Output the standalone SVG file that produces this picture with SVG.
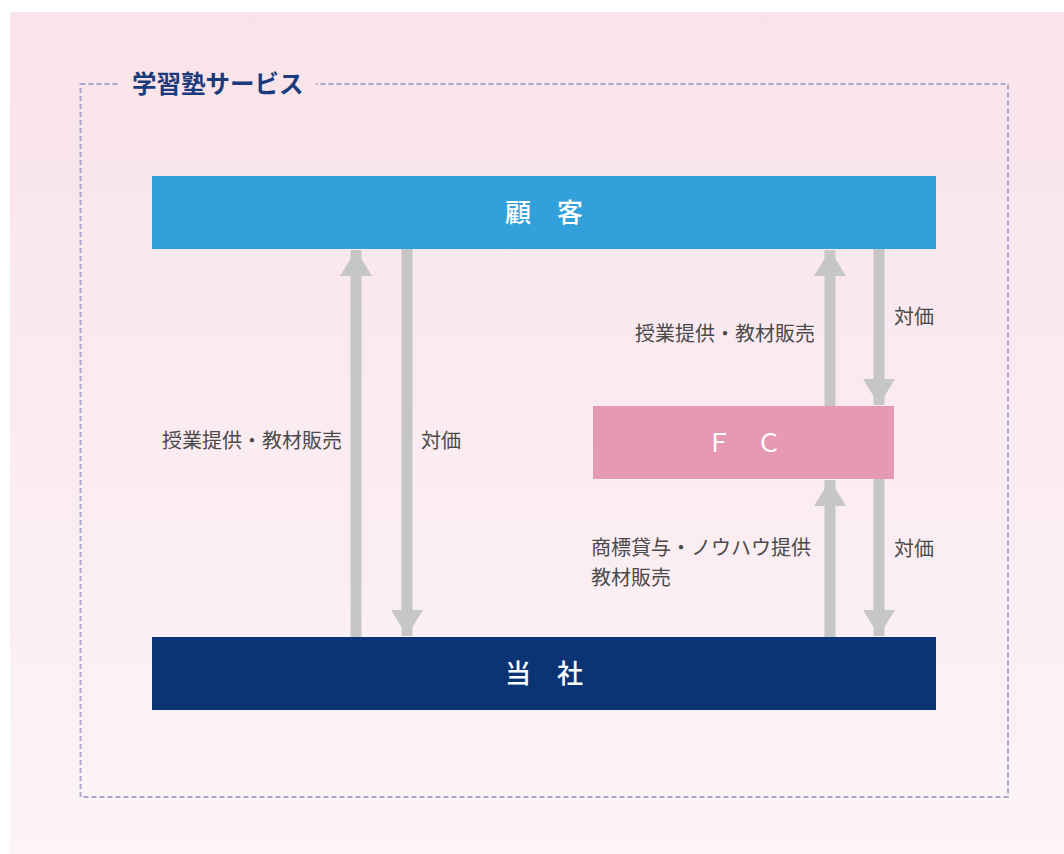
<svg xmlns="http://www.w3.org/2000/svg" width="1064" height="854" viewBox="0 0 1064 854">
<defs>
<linearGradient id="bg" x1="0" y1="0" x2="0" y2="1">
<stop offset="0" stop-color="#f9e3ea"/>
<stop offset="1" stop-color="#fcf4f7"/>
</linearGradient>
<marker id="ah" viewBox="0 0 26 32" refX="26" refY="16" markerWidth="26" markerHeight="32" markerUnits="userSpaceOnUse" orient="auto">
<path d="M0,0 L26,16 L0,32 Z" fill="#c6c6c6"/>
</marker>
<style>
.lbl{font-family:"Noto Sans CJK JP","Noto Sans",sans-serif;font-size:20px;fill:#4a4a4a}
.box{font-family:"Noto Sans CJK JP","Noto Sans",sans-serif;font-size:26px;fill:#ffffff;font-weight:500}
.conn{stroke:#c6c6c6;stroke-width:11;fill:none}
</style>
</defs>
<rect x="0" y="0" width="1064" height="854" fill="#ffffff"/>
<rect x="10" y="12" width="1054" height="842" fill="url(#bg)"/>
<g id="frame">
<rect x="80.5" y="84" width="927.5" height="713" fill="none" stroke="#a8a8cc" stroke-width="2" stroke-dasharray="5,3"/>
<rect x="120" y="70" width="196" height="30" fill="#f9e4ea"/>
<text x="132" y="93" font-family="'Noto Sans CJK JP','Noto Sans',sans-serif" font-size="24.5" font-weight="bold" fill="#1b3a7c">学習塾サービス</text>
</g>
<g id="connectors">
<line class="conn" x1="356" y1="637" x2="356" y2="250" marker-end="url(#ah)"/>
<line class="conn" x1="407" y1="249" x2="407" y2="636" marker-end="url(#ah)"/>
<line class="conn" x1="830" y1="406" x2="830" y2="250" marker-end="url(#ah)"/>
<line class="conn" x1="879" y1="249" x2="879" y2="405" marker-end="url(#ah)"/>
<line class="conn" x1="830" y1="637" x2="830" y2="480" marker-end="url(#ah)"/>
<line class="conn" x1="879" y1="479" x2="879" y2="636" marker-end="url(#ah)"/>
<text class="lbl" x="162" y="448">授業提供・教材販売</text>
<text class="lbl" x="421" y="448">対価</text>
<text class="lbl" x="815" y="341" text-anchor="end">授業提供・教材販売</text>
<text class="lbl" x="894" y="324">対価</text>
<text class="lbl" x="591" y="555">商標貸与・ノウハウ提供</text>
<text class="lbl" x="591" y="585">教材販売</text>
<text class="lbl" x="894" y="556">対価</text>
</g>
<g id="customer">
<rect x="152" y="176" width="784" height="73" fill="#32a0da"/>
<text class="box" x="544" y="222" text-anchor="middle">顧　客</text>
</g>
<g id="fc">
<rect x="593" y="406" width="301" height="73" fill="#e699b2"/>
<text class="box" x="744" y="452" text-anchor="middle" style="font-weight:normal;font-size:25px">Ｆ　Ｃ</text>
</g>
<g id="company">
<rect x="152" y="637" width="784" height="73" fill="#0b3475"/>
<text class="box" x="544" y="683" text-anchor="middle">当　社</text>
</g>
</svg>
